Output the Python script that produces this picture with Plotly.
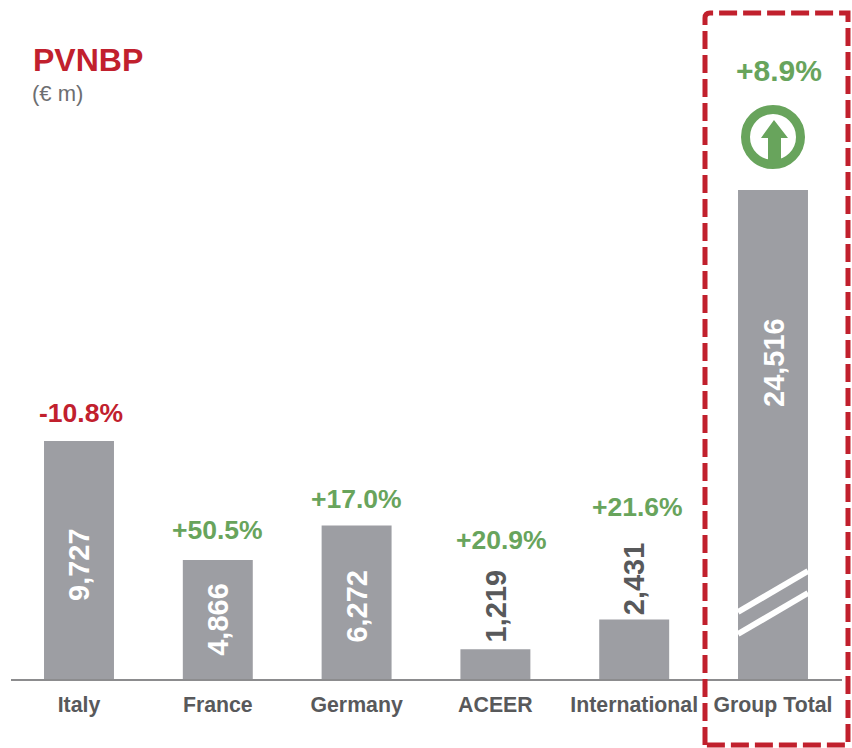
import plotly.graph_objects as go

categories = ["Italy", "France", "Germany", "ACEER", "International", "Group Total"]
values = [9727, 4866, 6272, 1219, 2431, 24516]
changes = ["-10.8%", "+50.5%", "+17.0%", "+20.9%", "+21.6%", "+8.9%"]
# The reference truncates the Group Total bar (axis break marked by the white slashes)
broken_bar_height = 19985
drawn = [broken_bar_height if v > broken_bar_height else v for v in values]

W, H = 852, 748
L, R, T, B = 11, 10, 0, 69
UNIT_PER_PX = 40.87
STEP = 138.8
RED, GREEN, GREY, DARK, TEXT = "#c1202d", "#68a45c", "#9d9ea3", "#58595b", "#6d6e71"

def px(x):
    return (x - L) / (W - L - R)
def py(y):
    return (H - B - y) / (H - T - B)

fig = go.Figure(go.Bar(
    x=list(range(6)), y=drawn, width=0.504, marker=dict(color=GREY, line_width=0),
    hoverinfo="skip", cliponaxis=False,
))

label_px = [565, 619, 606, 606, 579, 363]
label_col = ["white", "white", "white", DARK, DARK, "white"]
label_shift = [0, 0, 0, 1, 0, 1]
change_px = [413, 530, 499, 540, 507, 71]
change_shift = [2, 0, 0, 6, 3, 6]
change_size = [26.5, 26.5, 26.5, 26.5, 26.5, 30]
change_col = [RED if c.startswith("-") else GREEN for c in changes]
annotations = []
for i, v in enumerate(values):
    annotations.append(dict(x=i, xref="x", xshift=label_shift[i], y=py(label_px[i]), yref="paper", text=f"<b>{v:,}</b>",
                            textangle=-90, showarrow=False, xanchor="center", yanchor="middle",
                            font=dict(family="Liberation Sans", size=29, color=label_col[i])))
    annotations.append(dict(x=i, xref="x", xshift=change_shift[i], y=py(change_px[i]), yref="paper", text=f"<b>{changes[i]}</b>",
                            showarrow=False, xanchor="center", yanchor="middle",
                            font=dict(family="Liberation Sans", size=change_size[i], color=change_col[i])))
annotations.append(dict(x=px(31), xref="paper", y=py(60), yref="paper", text="<b>PVNBP</b>", showarrow=False,
                        xanchor="left", yanchor="middle", font=dict(family="Liberation Sans", size=32, color=RED)))
annotations.append(dict(x=px(30), xref="paper", y=py(94), yref="paper", text="(€ m)", showarrow=False,
                        xanchor="left", yanchor="middle", font=dict(family="Liberation Sans", size=22, color=TEXT)))

def ppath(points):
    return "M" + " L".join(f"{px(a):.5f},{py(b):.5f}" for a, b in points)

shapes = []
# axis-break slashes
for y0, y1 in [(612, 571), (634, 593)]:
    shapes.append(dict(type="line", xref="paper", yref="paper", x0=px(738), x1=px(808), y0=py(y0), y1=py(y1),
                       line=dict(color="white", width=6)))
# dashed highlight box
x0, x1, y0, y1, r = 705, 848, 13, 745, 5
box = (f"M{px(x0):.5f},{py(y1):.5f} L{px(x0):.5f},{py(y0+r):.5f} "
       f"Q{px(x0):.5f},{py(y0):.5f} {px(x0+r):.5f},{py(y0):.5f} "
       f"L{px(x1):.5f},{py(y0):.5f} L{px(x1):.5f},{py(y1):.5f} Z")
shapes.append(dict(type="path", xref="paper", yref="paper", path=box,
                   line=dict(color=RED, width=5, dash="18px,6px")))
# up-arrow icon
shapes.append(dict(type="circle", xref="paper", yref="paper", x0=px(745.5), x1=px(800.5), y0=py(109.5), y1=py(164.5),
                   line=dict(color=GREEN, width=9), fillcolor="white"))
arrow = [(774, 120), (788, 138), (781, 138), (781, 166), (768, 166), (768, 138), (761, 138)]
shapes.append(dict(type="path", xref="paper", yref="paper", path=ppath(arrow) + " Z",
                   fillcolor=GREEN, line=dict(width=0)))

fig.update_layout(
    width=W, height=H, margin=dict(l=L, r=R, t=T, b=B), autosize=False,
    paper_bgcolor="white", plot_bgcolor="white", showlegend=False,
    annotations=annotations, shapes=shapes,
    xaxis=dict(range=[(L - 79) / STEP, (W - R - 79) / STEP], tickmode="array", tickvals=list(range(6)),
               ticktext=[f"<b>{c}</b>" for c in categories], showgrid=False, zeroline=False,
               showline=True, linecolor="#8c8c8e", linewidth=2, ticks="outside", ticklen=5, tickcolor="rgba(0,0,0,0)",
               tickfont=dict(family="Liberation Sans", size=21.3, color=DARK)),
    yaxis=dict(range=[0, (H - B) * UNIT_PER_PX], visible=False),
)
fig.write_html("out.html", config={"displayModeBar": False},
               post_script="document.body.style.margin='0';document.documentElement.style.overflow='hidden';")
